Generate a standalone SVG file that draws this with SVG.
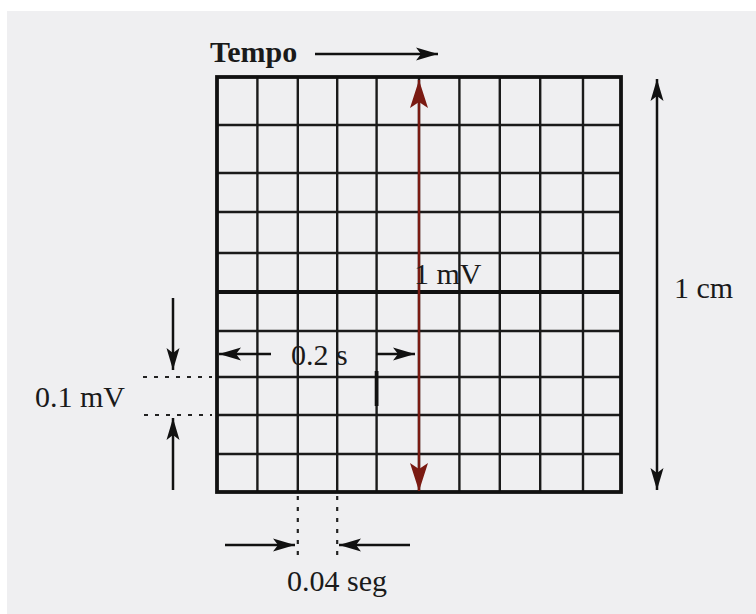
<svg xmlns="http://www.w3.org/2000/svg" width="756" height="614" viewBox="0 0 756 614">
  <defs>
    <style>
      .grid { stroke: #1a1a1a; stroke-width: 2.4; fill: none; }
      .thick { stroke: #111; stroke-width: 3.8; fill: none; }
      .arr { stroke: #111; stroke-width: 2.5; fill: none; }
      .red { stroke: #7a1a12; stroke-width: 2.4; fill: none; }
      .dot { stroke: #222; stroke-width: 2.2; fill: none; stroke-dasharray: 4 7; }
      .lbl { font-family: "Liberation Serif", "Times New Roman", serif; font-size: 30px; fill: #1a1a1a; }
      .bold { font-weight: bold; }
    </style>
    <marker id="ah" markerUnits="userSpaceOnUse" markerWidth="24" markerHeight="16" refX="22" refY="8" orient="auto-start-reverse">
      <path d="M0,1.5 L22,8 L0,14.5 L5,8 Z" fill="#111"/>
    </marker>
    <marker id="ahr" markerUnits="userSpaceOnUse" markerWidth="30" markerHeight="22" refX="28" refY="11" orient="auto-start-reverse">
      <path d="M0,2 L28,11 L0,20 L6,11 Z" fill="#7a1a12"/>
    </marker>
  </defs>

  <rect x="0" y="0" width="756" height="614" fill="#ffffff"/>
  <rect x="7" y="11" width="749" height="603" fill="#efeff1"/>

  <g id="grid">
    <g class="grid">
      <line x1="257.4" y1="77" x2="257.4" y2="492"/>
      <line x1="297.8" y1="77" x2="297.8" y2="492"/>
      <line x1="337.2" y1="77" x2="337.2" y2="492"/>
      <line x1="376.6" y1="77" x2="376.6" y2="492"/>
      <line x1="419" y1="77" x2="419" y2="492"/>
      <line x1="459.4" y1="77" x2="459.4" y2="492"/>
      <line x1="499.8" y1="77" x2="499.8" y2="492"/>
      <line x1="540.2" y1="77" x2="540.2" y2="492"/>
      <line x1="583" y1="77" x2="583" y2="492"/>
      <line x1="217" y1="125" x2="621" y2="125"/>
      <line x1="217" y1="173" x2="621" y2="173"/>
      <line x1="217" y1="212" x2="621" y2="212"/>
      <line x1="217" y1="253" x2="621" y2="253"/>
      <line x1="217" y1="331" x2="621" y2="331"/>
      <line x1="217" y1="377" x2="621" y2="377"/>
      <line x1="217" y1="415" x2="621" y2="415"/>
      <line x1="217" y1="454" x2="621" y2="454"/>
    </g>
    <line class="thick" x1="217" y1="292" x2="621" y2="292"/>
    <rect class="thick" x="217" y="77" width="404" height="415"/>
    <line class="thick" x1="376.6" y1="371" x2="376.6" y2="406"/>
  </g>

  <g id="connectors">
    <line class="arr" x1="315" y1="54" x2="438" y2="54" marker-end="url(#ah)"/>
    <line class="red" x1="419" y1="80" x2="419" y2="491" marker-start="url(#ahr)" marker-end="url(#ahr)"/>
    <line class="arr" x1="657" y1="79" x2="657" y2="490" marker-start="url(#ah)" marker-end="url(#ah)"/>
    <line class="arr" x1="271" y1="354" x2="219" y2="354" marker-end="url(#ah)"/>
    <line class="arr" x1="376" y1="354" x2="415" y2="354" marker-end="url(#ah)"/>
    <line class="arr" x1="173" y1="298" x2="173" y2="370" marker-end="url(#ah)"/>
    <line class="arr" x1="173" y1="490" x2="173" y2="418" marker-end="url(#ah)"/>
    <line class="dot" x1="143" y1="377" x2="212" y2="377"/>
    <line class="dot" x1="144" y1="415" x2="212" y2="415"/>
    <line class="dot" x1="297.8" y1="496" x2="297.8" y2="562"/>
    <line class="dot" x1="337.2" y1="496" x2="337.2" y2="562"/>
    <line class="arr" x1="225" y1="545" x2="295" y2="545" marker-end="url(#ah)"/>
    <line class="arr" x1="410" y1="545" x2="339" y2="545" marker-end="url(#ah)"/>
  </g>

  <g id="labels">
    <text class="lbl bold" x="210" y="62">Tempo</text>
    <text class="lbl" x="414" y="284">1 mV</text>
    <text class="lbl" x="674" y="298">1 cm</text>
    <text class="lbl" x="291" y="365">0.2 s</text>
    <text class="lbl" x="35" y="407">0.1 mV</text>
    <text class="lbl" x="287" y="591">0.04 seg</text>
  </g>
</svg>
